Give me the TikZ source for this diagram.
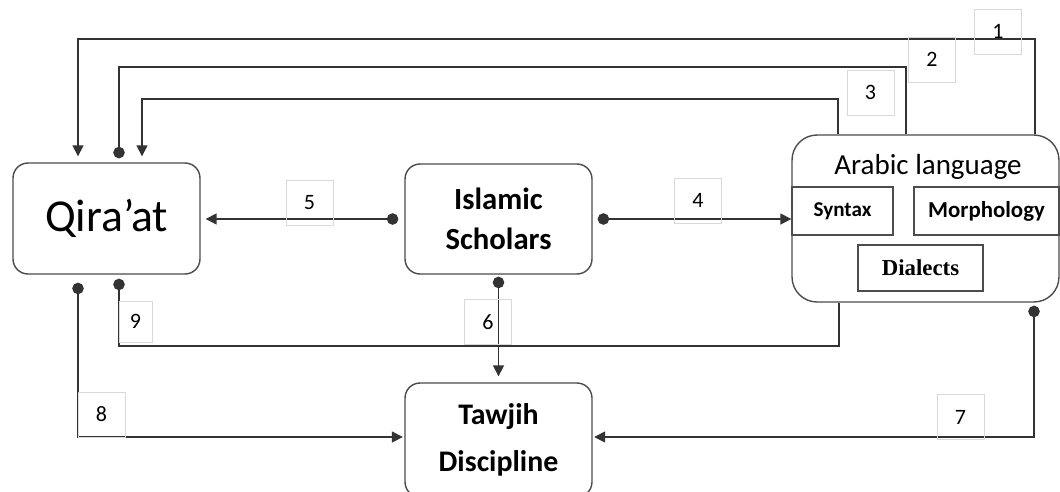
\documentclass[tikz,border=0pt]{standalone}
\usepackage{fontspec}
\setmainfont{Carlito}
\newfontfamily\dialectfont{Liberation Serif}
\usetikzlibrary{arrows.meta}
\colorlet{boxline}{black!70}
\colorlet{wiregray}{black!80}
\colorlet{tagline}{black!15}
\tikzstyle{block}=[draw=boxline, line width=0.8pt, rounded corners=0.3cm, align=center]
\tikzstyle{subbox}=[draw=boxline, line width=0.8pt, minimum height=0.96cm]
\tikzstyle{tag}=[draw=tagline, line width=0.4pt, minimum width=0.94cm, minimum height=0.9cm, font=\fontsize{12.5}{12.5}\selectfont]
\tikzstyle{wire}=[draw=wiregray, line width=0.9pt]
\tikzstyle{toarrow}=[-{Triangle[length=0.22cm, width=0.22cm]}]
\tikzstyle{todot}=[-{Circle[length=0.23cm]}]
\tikzstyle{fromdot}=[{Circle[length=0.23cm]}-]
\tikzstyle{dotarrow}=[{Circle[length=0.23cm]}-{Triangle[length=0.22cm, width=0.22cm]}]

\begin{document}
\begin{tikzpicture}[x=0.02cm, y=-0.02cm]
	\useasboundingbox (0,0) rectangle (1060,491);

	% Main boxes
	\node[block, minimum width=3.74cm, minimum height=2.22cm, font=\fontsize{26}{26}\selectfont] (qir) at (106.5,218.5)
		{Qira’at};
	\node[block, minimum width=3.74cm, minimum height=2.2cm, font=\fontsize{17.5}{22.5}\selectfont\bfseries] (isl) at (498.5,219)
		{Islamic\\Scholars};
	\node[block, minimum width=3.74cm, minimum height=2.28cm, font=\fontsize{17}{26.5}\selectfont\bfseries] (taw) at (498.5,440)
		{Tawjih\\Discipline};
	\node[block, rounded corners=0.5cm, minimum width=5.34cm, minimum height=3.34cm] (arb) at (925.5,218.5) {};

	% Inside the Arabic language box
	\node[font=\fontsize{16.5}{16.5}\selectfont] (arbtitle) at (928,167) {Arabic language};
	\node[subbox, minimum width=2.02cm, font=\fontsize{12}{12}\selectfont\bfseries] (syn) at (842.5,211) {Syntax};
	\node[subbox, minimum width=2.9cm, font=\fontsize{13}{13}\selectfont\bfseries] (mor) at (986.5,211) {Morphology};
	\node[subbox, minimum width=2.5cm, minimum height=0.92cm, font=\dialectfont\fontsize{13}{13}\selectfont\bfseries] (dia) at (920.5,268)
		{Dialects};

	% Bends of the long connectors
	\coordinate (k1a) at (1035,39);  \coordinate (k1b) at (78,39);
	\coordinate (k2a) at (906,67);   \coordinate (k2b) at (119,67);
	\coordinate (k3a) at (838,99);   \coordinate (k3b) at (142,99);
	\coordinate (k7) at (1034,437);
	\coordinate (k8) at (78,437);
	\coordinate (k9a) at (119,346);  \coordinate (k9b) at (839,346);

	% Connectors
	\draw[wire, toarrow, shorten >=0.12cm] (arb.north -| k1a) -- (k1a) -- (k1b) -- (qir.north -| k1b);
	\draw[wire, todot, shorten >=0.08cm] (arb.north -| k2a) -- (k2a) -- (k2b) -- (qir.north -| k2b);
	\draw[wire, toarrow, shorten >=0.12cm] (arb.north -| k3a) -- (k3a) -- (k3b) -- (qir.north -| k3b);
	\draw[wire, dotarrow, shorten <=0.1cm] (isl.east) -- (isl.east -| arb.west);
	\draw[wire, dotarrow, shorten <=0.12cm, shorten >=0.1cm] (isl.west) -- (isl.west -| qir.east);
	\draw[wire, dotarrow, shorten <=0.04cm, shorten >=0.12cm] (isl.south) -- (taw.north);
	\draw[wire, dotarrow, shorten <=0.06cm, shorten >=0.03cm] (arb.south -| k7) -- (k7) -- (k7 -| taw.east);
	\draw[wire, dotarrow, shorten <=0.16cm, shorten >=0.03cm] (qir.south -| k8) -- (k8) -- (k8 -| taw.west);
	\draw[wire, fromdot, shorten <=0.08cm] (qir.south -| k9a) -- (k9a) -- (k9b) -- (arb.south -| k9b);

	% Number tags
	\node[tag] (n1) at (998,31.5) {1};
	\node[tag] (n2) at (932,59.5) {2};
	\node[tag] (n3) at (870.5,92.5) {3};
	\node[tag] (n4) at (698,200.5) {4};
	\node[tag] (n5) at (309.5,202.5) {5};
	\node[tag] (n6) at (488,322) {6};
	\node[tag] (n7) at (960.5,417) {7};
	\node[tag] (n8) at (101.5,414.5) {8};
	\node[tag, minimum width=0.66cm, minimum height=0.82cm] (n9) at (135.5,321.5) {9};
\end{tikzpicture}
\end{document}
